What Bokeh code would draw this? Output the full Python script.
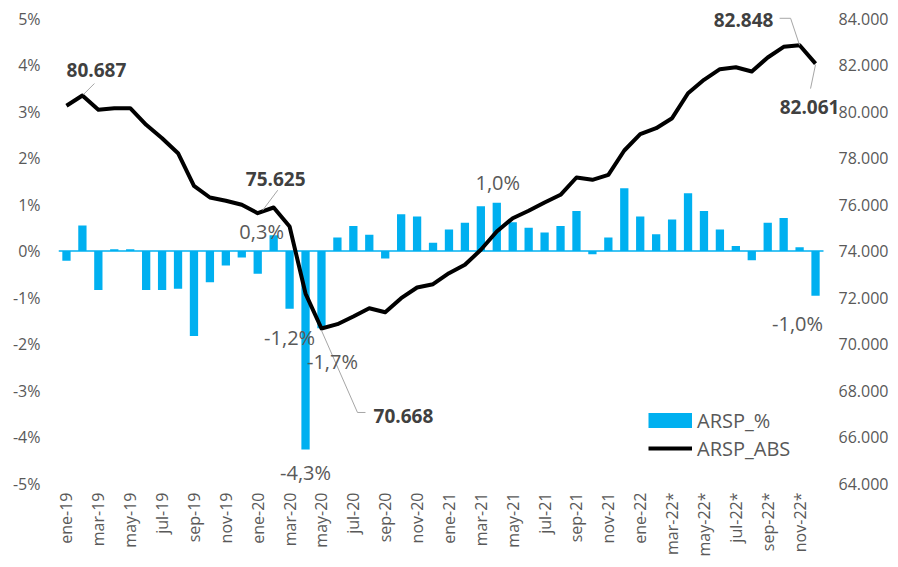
import math
from bokeh.plotting import figure
from bokeh.models import Range1d, LinearAxis, FixedTicker, Legend, LegendItem, Label, Arrow
from bokeh.embed import file_html
from bokeh.resources import INLINE

# ---------------- data ----------------
mon = ["ene", "feb", "mar", "abr", "may", "jun", "jul", "ago", "sep", "oct", "nov", "dic"]
months = ([f"{m}-19" for m in mon] + [f"{m}-20" for m in mon] + [f"{m}-21" for m in mon]
          + ["ene-22", "feb-22"] + [f"{m}-22*" for m in mon[2:]])

arsp_pct = [-0.21, 0.55, -0.84, 0.04, 0.04, -0.84, -0.84, -0.81, -1.83, -0.67, -0.31, -0.14,
            -0.49, 0.34, -1.24, -4.27, -1.66, 0.29, 0.54, 0.35, -0.16, 0.79, 0.74, 0.18,
            0.46, 0.61, 0.96, 1.04, 0.62, 0.50, 0.40, 0.54, 0.86, -0.07, 0.29, 1.35,
            0.74, 0.36, 0.68, 1.24, 0.86, 0.46, 0.11, -0.20, 0.61, 0.71, 0.08, -0.96]

arsp_abs = [80245, 80687, 80073, 80142, 80142, 79428, 78852, 78206, 76804, 76301, 76159, 75987,
            75625, 75871, 75050, 72170, 70668, 70852, 71183, 71540, 71368, 71970, 72430, 72572,
            73045, 73406, 74052, 74839, 75411, 75729, 76086, 76417, 77161, 77062, 77277, 78323,
            79024, 79282, 79712, 80787, 81363, 81819, 81905, 81720, 82323, 82782, 82848, 82061]

pct_ticks = [-5, -4, -3, -2, -1, 0, 1, 2, 3, 4, 5]
pct_tick_labels = [f"{t}%" for t in pct_ticks]
abs_ticks = [64000, 66000, 68000, 70000, 72000, 74000, 76000, 78000, 80000, 82000, 84000]
abs_tick_labels = [f"{t:,}".replace(",", ".") for t in abs_ticks]

abs_label_idx = [1, 12, 16, 46, 47]
pct_label_idx = [13, 27, 14, 16, 15, 47]

# ---------------- style ----------------
FONT = "Open Sans"
BLUE = "#00B0F0"
GREY = "#595959"
DARK = "#404040"
LEAD = "#a6a6a6"
N = len(months)
XPX = 765 / N                # px per category
YPX = 465 / 10.0             # px per 1 %
APX = 465 / 20000.0          # px per unit of ABS
EXTRA_TOP = 13               # px of headroom above the 5% line (for the top label)
EXTRA_RIGHT = 15             # px of room right of the last category (for the last label)

x = list(range(N))
y_top = 5 + EXTRA_TOP / YPX
x_end = N - 0.5 + EXTRA_RIGHT / XPX

p = figure(width=898, height=567, x_range=Range1d(-0.5, x_end), y_range=Range1d(-5, y_top),
           output_backend="svg", toolbar_location=None,
           min_border_left=58, min_border_right=60, min_border_top=5, min_border_bottom=84)
p.extra_y_ranges = {"abs": Range1d(64000, 74000 + y_top * 2000)}
p.outline_line_color = None
p.xgrid.visible = False
p.ygrid.visible = False

# axes
p.xaxis.ticker = FixedTicker(ticks=list(range(0, N, 2)))
p.xaxis.major_label_overrides = {i: months[i] for i in range(0, N, 2)}
p.xaxis.major_label_orientation = math.pi / 2
p.xaxis.major_label_standoff = 9

p.yaxis.ticker = FixedTicker(ticks=pct_ticks)
p.yaxis.major_label_overrides = dict(zip(pct_ticks, pct_tick_labels))
p.yaxis.major_label_standoff = 18

ax_r = LinearAxis(y_range_name="abs", ticker=FixedTicker(ticks=abs_ticks),
                  major_label_overrides=dict(zip(abs_ticks, abs_tick_labels)))
ax_r.major_label_standoff = 0
p.add_layout(ax_r, "right")

for ax in [p.xaxis[0], p.yaxis[0], ax_r]:
    ax.axis_line_color = None
    ax.major_tick_line_color = None
    ax.minor_tick_line_color = None
    ax.major_tick_out = 0
    ax.major_tick_in = 0
    ax.minor_tick_out = 0
    ax.minor_tick_in = 0
    ax.major_label_text_font = FONT
    ax.major_label_text_font_size = "16px"
    ax.major_label_text_color = GREY

# bars + zero (category) axis line across the categories
bars = p.vbar(x=x, top=arsp_pct, width=0.52, fill_color=BLUE, line_color=None)
p.segment(x0=[x[0] - 0.5], x1=[x[-1] + 0.5], y0=[0], y1=[0], line_color=BLUE, line_width=1.5)

# line
ln = p.line(x, arsp_abs, y_range_name="abs", line_color="black", line_width=4, line_join="round")

# legend proxy for the bar entry (thick line = filled box), drawn outside the visible range
bar_proxy = p.line([-5, -4], [0, 0], line_color=BLUE, line_width=15)

legend = Legend(items=[LegendItem(label="ARSP_%", renderers=[bar_proxy]),
                       LegendItem(label="ARSP_ABS", renderers=[ln])],
                location=(590, 21), glyph_width=44, glyph_height=28, label_height=28,
                spacing=0, padding=0, margin=0, label_standoff=5,
                border_line_color=None, background_fill_alpha=0,
                label_text_font=FONT, label_text_font_size="20px", label_text_color=GREY)
p.add_layout(legend)

# ---------------- annotations ----------------
abs_lab_off = {1: (14, -25.5), 12: (18, -34), 16: (82, 88), 46: (-56, -25), 47: (-6, 43.5)}
abs_leaders = {1: [(1, -1), (12, -12)], 12: [(5, -3), (20, -23)],
               16: [(0, 2), (36, 84), (44, 84)], 46: [(0, 0), (-9, -27), (-20, -27)],
               47: [(0, 1), (-5, 25)]}

for i in abs_label_idx:
    v = arsp_abs[i]
    pts = abs_leaders[i]
    for (ax0, ay0), (ax1, ay1) in zip(pts[:-1], pts[1:]):
        p.add_layout(Arrow(x_start=i + ax0 / XPX, y_start=v - ay0 / APX,
                           x_end=i + ax1 / XPX, y_end=v - ay1 / APX,
                           start=None, end=None, y_range_name="abs",
                           line_color=LEAD, line_width=1))
    dx, dy = abs_lab_off[i]
    p.add_layout(Label(x=i + dx / XPX, y=v - dy / APX, y_range_name="abs",
                       text=f"{v:,}".replace(",", "."), text_font=FONT, text_font_size="19px",
                       text_font_style="bold", text_color=DARK,
                       text_align="center", text_baseline="middle"))

pct_lab_off = {13: (-12, -4), 27: (1, -20), 14: (0, 29), 16: (11, 33), 15: (0, 23), 47: (-18, 28)}
for i in pct_label_idx:
    v = arsp_pct[i]
    dx, dy = pct_lab_off[i]
    p.add_layout(Label(x=i + dx / XPX, y=v - dy / YPX,
                       text=f"{v:.1f}".replace(".", ",") + "%", text_font=FONT,
                       text_font_size="20px", text_color=GREY,
                       text_align="center", text_baseline="middle"))

open("out.html", "w").write(file_html(p, INLINE))
